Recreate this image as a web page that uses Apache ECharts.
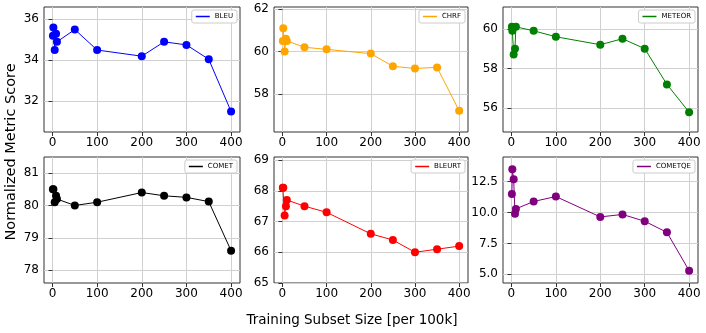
<!DOCTYPE html>
<html><head><meta charset="utf-8">
<script src="https://cdn.jsdelivr.net/npm/echarts@6/dist/echarts.min.js"></script>
<style>html,body{margin:0;padding:0;background:#fff}#c{width:706px;height:333px}</style>
</head><body><div id="c"></div>
<script>
const xValues = [1, 2, 5, 8, 10, 50, 100, 200, 250, 300, 350, 400];
const bleu    = [35.2, 35.6, 34.5, 35.3, 34.9, 35.5, 34.5, 34.2, 34.9, 34.75, 34.05, 31.5];
const chrf    = [60.5, 61.1, 60.0, 60.6, 60.5, 60.2, 60.1, 59.9, 59.3, 59.2, 59.25, 57.2];
const meteor  = [60.1, 59.9, 58.7, 59.0, 60.1, 59.9, 59.6, 59.2, 59.5, 59.0, 57.2, 55.8];
const comet   = [80.5, 80.5, 80.1, 80.3, 80.2, 80.0, 80.1, 80.4, 80.3, 80.25, 80.12, 78.6];
const bleurt  = [68.1, 68.1, 67.2, 67.5, 67.7, 67.5, 67.3, 66.6, 66.4, 66.0, 66.1, 66.2];
const cometqe = [11.5, 13.5, 12.7, 9.9, 10.3, 10.9, 11.3, 9.65, 9.85, 9.3, 8.4, 5.3];
const xTicks = [0, 100, 200, 300, 400];
const panels = [
  {name:'BLEU', data:bleu, color:'#0000ff', ticks:[32,34,36], dec:0},
  {name:'CHRF', data:chrf, color:'#ffa500', ticks:[58,60,62], dec:0},
  {name:'METEOR', data:meteor, color:'#008000', ticks:[56,58,60], dec:0},
  {name:'COMET', data:comet, color:'#000000', ticks:[78,79,80,81], dec:0},
  {name:'BLEURT', data:bleurt, color:'#ff0000', ticks:[65,66,67,68,69], dec:0},
  {name:'COMETQE', data:cometqe, color:'#800080', ticks:[5,7.5,10,12.5], dec:1}
];
const lefts = [44, 274, 503], widths = [196, 194, 195];
const tops = [7, 157], heights = [125, 126];
const F = 'DejaVu Sans';
const grids = [], xAxes = [], yAxes = [], series = [], legends = [];
panels.forEach((p, i) => {
  const r = Math.floor(i / 3), c = i % 3;
  grids.push({left: lefts[c], top: tops[r], width: widths[c], height: heights[r], show: true,
    borderColor: '#333', borderWidth: 1, backgroundColor: 'transparent'});
  xAxes.push({type: 'value', gridIndex: i, min: -19, max: 420,
    axisLine: {show: false},
    axisTick: {show: true, length: 4, lineStyle: {color: '#333'}, customValues: xTicks},
    axisLabel: {fontFamily: F, fontSize: 12, color: '#000', margin: 5, customValues: xTicks},
    splitLine: {show: true, lineStyle: {color: '#d0d0d0', width: 1}}});
  const mn = Math.min(...p.data) - 1, mx = Math.max(...p.data) + 1;
  yAxes.push({type: 'value', gridIndex: i, min: mn, max: mx,
    axisLine: {show: false},
    axisTick: {show: true, length: 4, lineStyle: {color: '#333'}, customValues: p.ticks},
    axisLabel: {fontFamily: F, fontSize: 12, color: '#000', margin: 5, customValues: p.ticks,
      formatter: v => v.toFixed(p.dec)},
    splitLine: {show: true, lineStyle: {color: '#d0d0d0', width: 1}}});
  series.push({type: 'line', name: p.name, xAxisIndex: i, yAxisIndex: i,
    data: xValues.map((x, k) => [x, p.data[k]]),
    symbol: 'circle', symbolSize: 8, showSymbol: true,
    lineStyle: {color: p.color, width: 1}, itemStyle: {color: p.color}, animation: false});
  legends.push({data: [p.name], right: 706 - (lefts[c] + widths[c]) + 3, top: tops[r] + 3,
    orient: 'vertical', icon: 'rect', itemWidth: 14, itemHeight: 1.5, itemGap: 2,
    padding: [3, 4, 3, 4], borderColor: '#ccc', borderWidth: 1, borderRadius: 2,
    backgroundColor: '#fff', textStyle: {fontFamily: F, fontSize: 7, color: '#000'},
    selectedMode: false});
});
const chart = echarts.init(document.getElementById('c'), null, {renderer: 'canvas'});
chart.setOption({
  animation: false,
  grid: grids, xAxis: xAxes, yAxis: yAxes, series: series, legend: legends,
  graphic: [
    {type: 'text', x: 352, y: 320, style: {text: 'Training Subset Size [per 100k]', fontFamily: F, fontSize: 13.5, fill: '#000', textAlign: 'center', textVerticalAlign: 'middle'}},
    {type: 'text', x: 11, y: 152, rotation: Math.PI / 2, style: {text: 'Normalized Metric Score', fontFamily: F, fontSize: 14.5, fill: '#000', textAlign: 'center', textVerticalAlign: 'middle'}}
  ]
});
</script></body></html>
